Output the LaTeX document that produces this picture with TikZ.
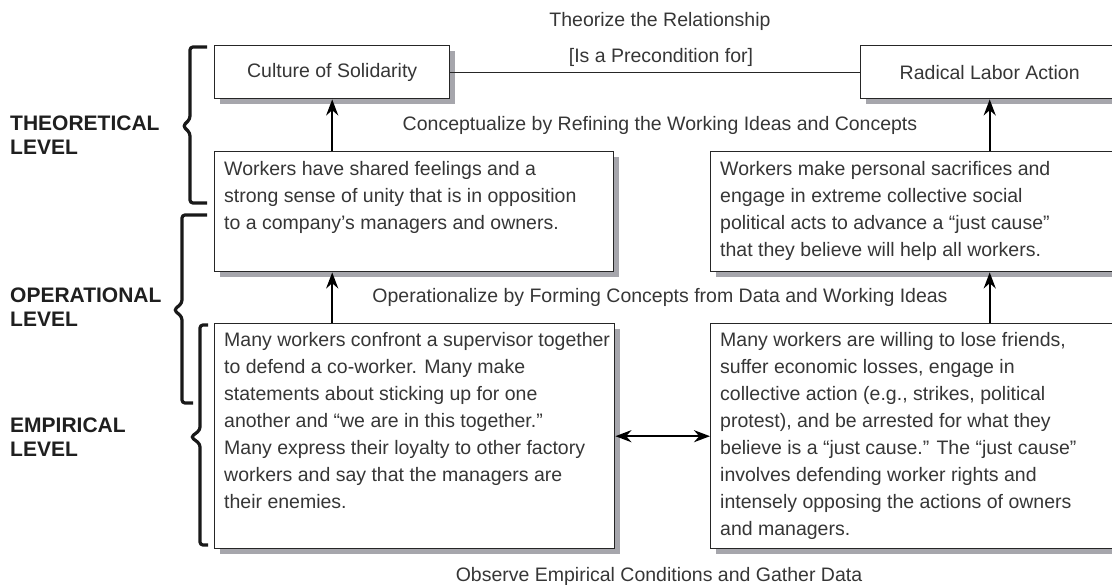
\documentclass[tikz,border=0pt]{standalone}
\usepackage{fontspec}
\setmainfont{Liberation Sans}
\usetikzlibrary{arrows.meta,shadows}
\definecolor{txt}{HTML}{363636}
\definecolor{shade}{HTML}{A6A6AC}
\tikzset{
  box/.style={draw=black!85, line width=1.4pt, fill=white, rectangle, inner sep=0pt,
    anchor=north west, text=txt, font=\fontsize{19.5}{24}\selectfont,
    general shadow={fill=shade, shadow xshift=5.5pt, shadow yshift=-5.5pt}},
  bodytext/.style={anchor=north west, inner sep=0pt, align=left, text=txt,
    font=\fontsize{19.5}{27}\selectfont},
  midlabel/.style={anchor=base, inner sep=0pt, text=txt, font=\fontsize{19.5}{24}\selectfont},
  lvl/.style={anchor=north west, inner sep=0pt, align=left, text=black!88,
    font=\fontsize{21}{23.5}\selectfont\bfseries},
  uparrow/.style={line width=2.4pt, -{Stealth[length=16pt,width=12pt]}},
  twoway/.style={line width=2.3pt, {Stealth[length=16pt,width=12pt]}-{Stealth[length=16pt,width=12pt]}},
  bracepath/.style={line width=3.2pt, rounded corners=3pt, draw=black!90},
  link/.style={line width=1.3pt, draw=black!85}
}
\begin{document}
\begin{tikzpicture}[x=1pt,y=-1pt]
\useasboundingbox (0,0) rectangle (1112,585);
\clip (0,0) rectangle (1112,585);

% boxes
\node[box, minimum width=235pt, minimum height=53pt] (b1) at (214,45) {Culture of Solidarity};
\node[box, minimum width=258pt, minimum height=53pt] (b2) at (860,45) {Radical Labor Action};
\node[box, minimum width=399pt, minimum height=120pt] (b3) at (214,151) {};
\node[box, minimum width=408pt, minimum height=120pt] (b4) at (710,151) {};
\node[box, minimum width=400pt, minimum height=225pt] (b5) at (214,323) {};
\node[box, minimum width=408pt, minimum height=225pt] (b6) at (710,323) {};

% box texts
\node[bodytext] (t3) at (224,160) {\rule{0pt}{15pt}Workers have shared feelings and a\\
strong sense of unity that is in opposition\\
to a company’s managers and owners.};
\node[bodytext] (t4) at (720,160) {\rule{0pt}{15pt}Workers make personal sacrifices and\\
engage in extreme collective social\\
political acts to advance a “just cause”\\
that they believe will help all workers.};
\node[bodytext] (t5) at (224,331) {\rule{0pt}{15pt}Many workers confront a supervisor together\\
to defend a co-worker. Many make\\
statements about sticking up for one\\
another and “we are in this together.”\\
Many express their loyalty to other factory\\
workers and say that the managers are\\
their enemies.};
\node[bodytext] (t6) at (720,331) {\rule{0pt}{15pt}Many workers are willing to lose friends,\\
suffer economic losses, engage in\\
collective action (e.g., strikes, political\\
protest), and be arrested for what they\\
believe is a “just cause.” The “just cause”\\
involves defending worker rights and\\
intensely opposing the actions of owners\\
and managers.};

% middle labels
\node[midlabel] (l0) at (660,27) {Theorize the Relationship};
\node[midlabel] (l1) at (661,63) {[Is a Precondition for]};
\node[midlabel] (l2) at (660,131) {Conceptualize by Refining the Working Ideas and Concepts};
\node[midlabel] (l3) at (660,303) {Operationalize by Forming Concepts from Data and Working Ideas};
\node[midlabel] (l4) at (659,581) {Observe Empirical Conditions and Gather Data};

% level labels
\node[lvl] (v1) at (10,116) {THEORETICAL\\LEVEL};
\node[lvl] (v2) at (10,288) {OPERATIONAL\\LEVEL};
\node[lvl] (v3) at (10,418) {EMPIRICAL\\LEVEL};

% connectors
\draw[link] (b1.east) -- (b2.west);
\draw[uparrow] (b3.north -| b1.south) -- (b1.south);
\draw[uparrow] (b4.north -| b2.south) -- (b2.south);
\draw[uparrow] (b5.north -| b1.south) -- (b3.south -| b1.south);
\draw[uparrow] (b6.north -| b2.south) -- (b4.south -| b2.south);
\draw[twoway] (b5.east) -- (b6.west);

% braces
\draw[bracepath] (207,47) -- (190,47) -- (190,119) -- (183,126) -- (190,133) -- (190,203) -- (207,203);
\draw[bracepath] (207,215) -- (182,215) -- (182,303) -- (174,310) -- (182,317) -- (182,403) -- (193,403);
\draw[bracepath] (208,325) -- (200,325) -- (200,430) -- (191,437) -- (200,444) -- (200,545) -- (208,545);
\end{tikzpicture}
\end{document}
